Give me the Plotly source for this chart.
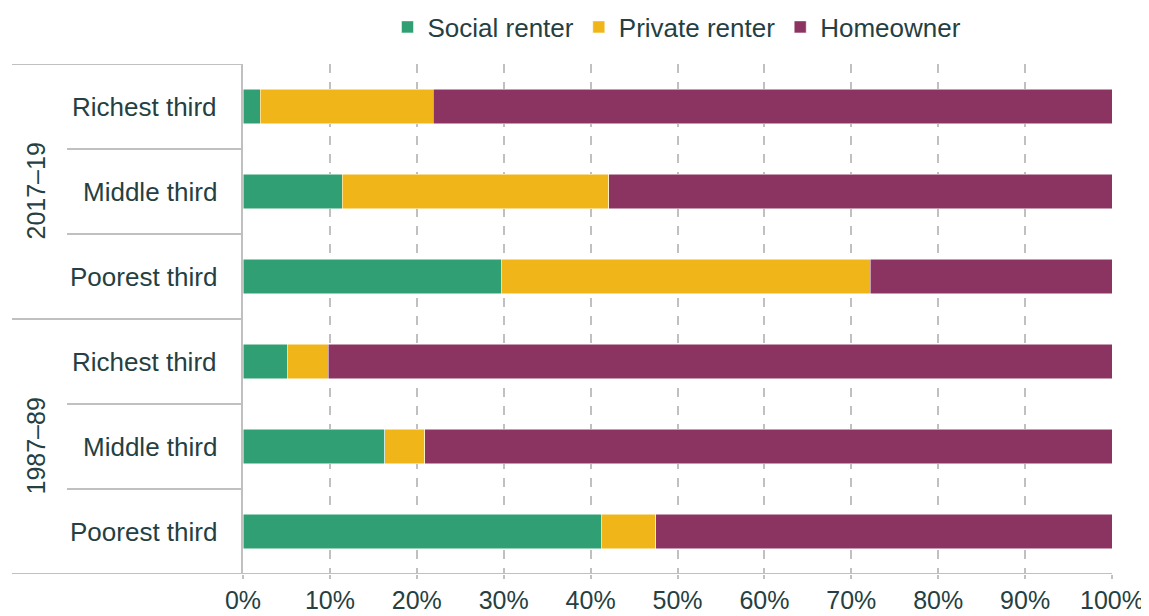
import plotly.graph_objects as go

# Data (bottom to top)
groups = ["1987–89", "1987–89", "1987–89", "2017–19", "2017–19", "2017–19"]
thirds = ["Poorest third", "Middle third", "Richest third",
          "Poorest third", "Middle third", "Richest third"]
social = [41.2, 16.3, 5.1, 29.7, 11.4, 2.0]
private = [6.3, 4.6, 4.7, 42.5, 30.7, 19.9]
homeowner = [52.5, 79.1, 90.2, 27.8, 57.9, 78.1]
xticks = [0, 10, 20, 30, 40, 50, 60, 70, 80, 90, 100]
xticklabels = [f"{v}%" for v in xticks]

series = [("Social renter", social, "#30a074"),
          ("Private renter", private, "#f0b619"),
          ("Homeowner", homeowner, "#8c3461")]

ypos = list(range(len(thirds)))
FONT = "Liberation Sans, Arial, sans-serif"
TXT = "#253f42"
GRID = "#c0c0c0"
FS = 26

fig = go.Figure()
for name, vals, col in series:
    fig.add_trace(go.Bar(
        y=ypos, x=vals, name=name, orientation="h",
        marker=dict(color=col, line=dict(color="white", width=0.5)),
        width=0.41,
    ))

# page offset of 8px (body margin) compensated
W, H = 1141, 608
L, R, T, B = 235, 37, 56, 42
pw = W - L - R
ph = H - T - B

def px2paper(px):
    # px in page coordinates
    return (px - 8 - L) / pw

shapes = []
for yv in [-0.5, 0.5, 1.5, 2.5, 3.5, 4.5, 5.5]:
    full = yv in (-0.5, 2.5, 5.5)
    x0 = px2paper(12) if full else px2paper(67)
    shapes.append(dict(type="line", xref="paper", yref="y", x0=x0, x1=0,
                       y0=yv, y1=yv, line=dict(color=GRID, width=2), layer="above"))
shapes.append(dict(type="line", xref="paper", yref="y", x0=0, x1=1,
                   y0=-0.5, y1=-0.5, line=dict(color=GRID, width=2)))

annotations = []
for i, t in enumerate(thirds):
    annotations.append(dict(xref="paper", yref="y", x=px2paper(219), y=i, text=t,
                            showarrow=False, xanchor="right", yanchor="middle",
                            font=dict(family=FONT, size=FS, color=TXT)))
for g, yc in [("1987–89", 1), ("2017–19", 4)]:
    annotations.append(dict(xref="paper", yref="y", x=px2paper(35), y=yc, text=g,
                            showarrow=False, textangle=-90, xanchor="center",
                            yanchor="middle",
                            font=dict(family=FONT, size=25, color=TXT)))

fig.update_layout(
    width=W, height=H,
    margin=dict(l=L, r=R, t=T, b=B, autoexpand=False),
    barmode="stack",
    plot_bgcolor="white", paper_bgcolor="white",
    font=dict(family=FONT, size=FS, color=TXT),
    showlegend=True,
    legend=dict(orientation="h", x=px2paper(677), xanchor="center",
                y=1 + 37 / ph, yanchor="middle",
                font=dict(family=FONT, size=FS, color=TXT),
                itemwidth=30, traceorder="normal", bgcolor="rgba(0,0,0,0)"),
    xaxis=dict(range=[0, 100], tickvals=xticks, ticktext=xticklabels,
               showgrid=True, gridcolor=GRID, griddash="dash", gridwidth=1.5,
               zeroline=False, showline=False, ticks="outside", ticklen=4,
               tickcolor=GRID, tickwidth=1.5,
               tickfont=dict(family=FONT, size=25, color=TXT), automargin=False),
    yaxis=dict(range=[-0.5, 5.5], showticklabels=False, showgrid=False,
               zeroline=False, showline=True, linecolor=GRID, linewidth=2,
               fixedrange=True, automargin=False),
    shapes=shapes, annotations=annotations,
    bargap=0.5,
)
fig.write_html("out.html")
